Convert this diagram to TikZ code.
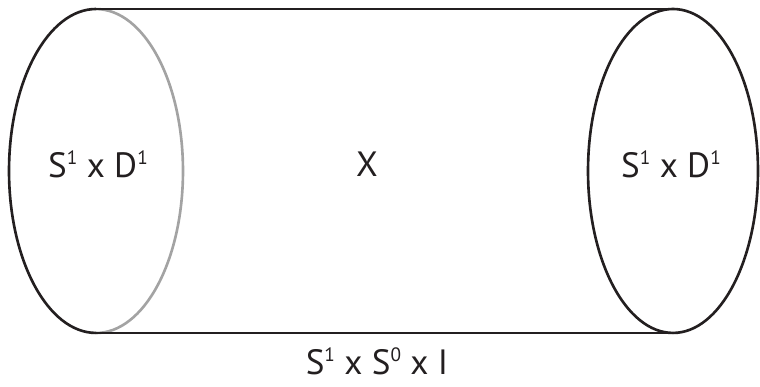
\documentclass[tikz,border=0pt]{standalone}
\usepackage{fontspec}
\setmainfont{PT Sans}
\usepackage{tikz}
\usetikzlibrary{positioning}
\definecolor{ink}{HTML}{231F20}
\definecolor{hidden}{HTML}{A3A3A3}
\newcommand{\hi}[1]{\raisebox{0.72ex}{\fontsize{11}{12}\selectfont #1}}

\begin{document}
\begin{tikzpicture}[x=0.02cm,y=0.02cm,
    rim/.style={line width=1.5pt,ink},
    lbl/.style={anchor=base,inner sep=0pt,text=ink,font=\fontsize{20}{24}\selectfont}]
  \def\rx{1.74cm}  \def\ry{3.24cm}
  \useasboundingbox (0,0) rectangle (760,386);
  \coordinate (LT) at (96,377);
  \coordinate (LB) at (96,53);
  \coordinate (RT) at (673,377);
  \coordinate (RB) at (673,53);
  % left end: front half black, back half gray
  \draw[line width=1.5pt,hidden] (LB) arc[start angle=-90,end angle=90,x radius=\rx,y radius=\ry];
  \draw[rim] (LT) arc[start angle=90,end angle=270,x radius=\rx,y radius=\ry];
  % right end
  \draw[rim] (RT) arc[start angle=90,end angle=450,x radius=1.70cm,y radius=\ry];
  % sides of the tube
  \draw[rim] (LT) -- (RT);
  \draw[rim] (LB) -- (RB);
  % labels
  \node[lbl] (left)  at (98,209)  {S\hi{1} x D\hi{1}};
  \node[lbl] (right) at (671,209) {S\hi{1} x D\hi{1}};
  \node[lbl] (mid)   at (367,210) {X};
  \node[lbl] (side)  at (377,12)  {S\hi{1} x S\hi{0} x I};
\end{tikzpicture}
\end{document}
